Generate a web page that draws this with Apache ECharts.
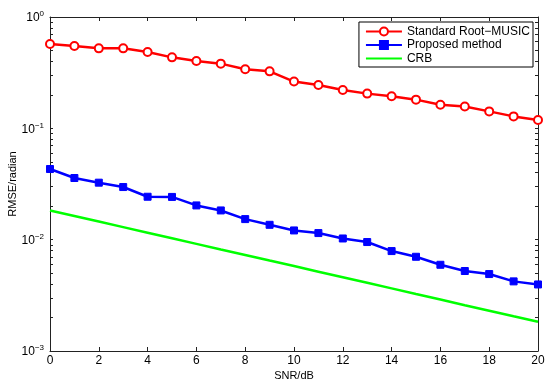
<!DOCTYPE html>
<html>
<head>
<meta charset="utf-8">
<script src="https://cdn.jsdelivr.net/npm/echarts@6/dist/echarts.min.js"></script>
<style>html,body{margin:0;padding:0;background:#fff}#c{width:550px;height:386px}</style>
</head>
<body>
<div id="c"></div>
<script>
var snr = [0,1,2,3,4,5,6,7,8,9,10,11,12,13,14,15,16,17,18,19,20];
var rootMusic = [0.572,0.549,0.523,0.523,0.485,0.434,0.402,0.381,0.339,0.325,0.263,0.245,0.221,0.205,0.194,0.181,0.163,0.157,0.142,0.128,0.119];
var proposed = [0.0431,0.0358,0.0325,0.0297,0.0243,0.0242,0.0203,0.0183,0.0153,0.0136,0.0121,0.01146,0.01025,0.00952,0.0079,0.00702,0.00595,0.00523,0.00491,0.00422,0.00396];
var crb = [0.0183,0.01631,0.01454,0.01296,0.01155,0.01029,0.00917,0.00817,0.00729,0.00649,0.00579,0.00516,0.0046,0.0041,0.00365,0.00325,0.0029,0.00258,0.0023,0.00205,0.00183];
var seriesNames = ['Standard Root\u2212MUSIC','Proposed method','CRB'];
var yTickValues = [0.001,0.002,0.003,0.004,0.005,0.006,0.007,0.008,0.009,0.01,0.02,0.03,0.04,0.05,0.06,0.07,0.08,0.09,0.1,0.2,0.3,0.4,0.5,0.6,0.7,0.8,0.9,1];

function pairs(ys){ return snr.map(function(x,i){ return [x, ys[i]]; }); }
var font = 'Liberation Sans, Arial, sans-serif';
var axisLineStyle = {color:'#222', width:1};

var chart = echarts.init(document.getElementById('c'), null, {renderer:'canvas'});
chart.setOption({
  animation:false,
  backgroundColor:'#fff',
  grid:{left:50, right:12, top:17, bottom:35, containLabel:false, outerBoundsMode:'none'},
  legend:{
    orient:'vertical', right:17, top:22,
    backgroundColor:'#fff', borderColor:'#000', borderWidth:1,
    padding:[3,3,2,6], itemGap:0.5, itemWidth:36, itemHeight:10,
    textStyle:{fontFamily:font, fontSize:12, color:'#000', lineHeight:13},
    data:[{name:seriesNames[0]},{name:seriesNames[1]},{name:seriesNames[2], itemStyle:{opacity:0}}]
  },
  xAxis:[{
    type:'value', min:0, max:20, interval:2, position:'bottom',
    name:'SNR/dB', nameLocation:'middle', nameGap:19, nameMoveOverlap:false,
    nameTextStyle:{fontFamily:font, fontSize:11, color:'#000'},
    axisLine:{onZero:false, lineStyle:axisLineStyle},
    axisTick:{inside:true, length:4, lineStyle:axisLineStyle},
    axisLabel:{fontFamily:font, fontSize:12, color:'#000', margin:4},
    splitLine:{show:false}
  },{
    type:'value', min:0, max:20, interval:2, position:'top',
    axisLine:{onZero:false, lineStyle:axisLineStyle},
    axisTick:{inside:true, length:4, lineStyle:axisLineStyle},
    axisLabel:{show:false}, splitLine:{show:false}
  }],
  yAxis:[{
    type:'log', logBase:10, min:0.001, max:1, position:'left',
    name:'RMSE/radian', nameLocation:'middle', nameGap:32, nameRotate:90, nameMoveOverlap:false,
    nameTextStyle:{fontFamily:font, fontSize:11, color:'#000'},
    axisLine:{onZero:false, lineStyle:axisLineStyle},
    axisTick:{inside:true, length:3, lineStyle:axisLineStyle, customValues:yTickValues},
    axisLabel:{
      margin:6,
      formatter:function(v){ var e=Math.round(Math.log10(v)); return '{b|10}{s|'+(e<0?'\u2212'+(-e):e)+'}'; },
      rich:{
        b:{fontFamily:font, fontSize:12, color:'#000', verticalAlign:'bottom', lineHeight:14},
        s:{fontFamily:font, fontSize:8, color:'#000', verticalAlign:'top', lineHeight:14, padding:[0,0,6,0]}
      }
    },
    splitLine:{show:false}
  },{
    type:'log', logBase:10, min:0.001, max:1, position:'right',
    axisLine:{onZero:false, lineStyle:axisLineStyle},
    axisTick:{inside:true, length:3, lineStyle:axisLineStyle, customValues:yTickValues},
    axisLabel:{show:false}, splitLine:{show:false}
  }],
  series:[{
    name:seriesNames[0], type:'line', data:pairs(rootMusic),
    symbol:'emptyCircle', symbolSize:8,
    lineStyle:{color:'#ff0000', width:2.5},
    itemStyle:{color:'#ff0000', borderColor:'#ff0000', borderWidth:2.2}
  },{
    name:seriesNames[1], type:'line', data:pairs(proposed),
    symbol:'rect', symbolSize:7,
    lineStyle:{color:'#0000ff', width:2.5},
    itemStyle:{color:'#0000ff', borderColor:'#0000ff', borderWidth:1}
  },{
    name:seriesNames[2], type:'line', data:pairs(crb),
    symbol:'none', showSymbol:false,
    lineStyle:{color:'#00ff00', width:2.5},
    itemStyle:{color:'#00ff00'}
  }]
});
</script>
</body>
</html>
